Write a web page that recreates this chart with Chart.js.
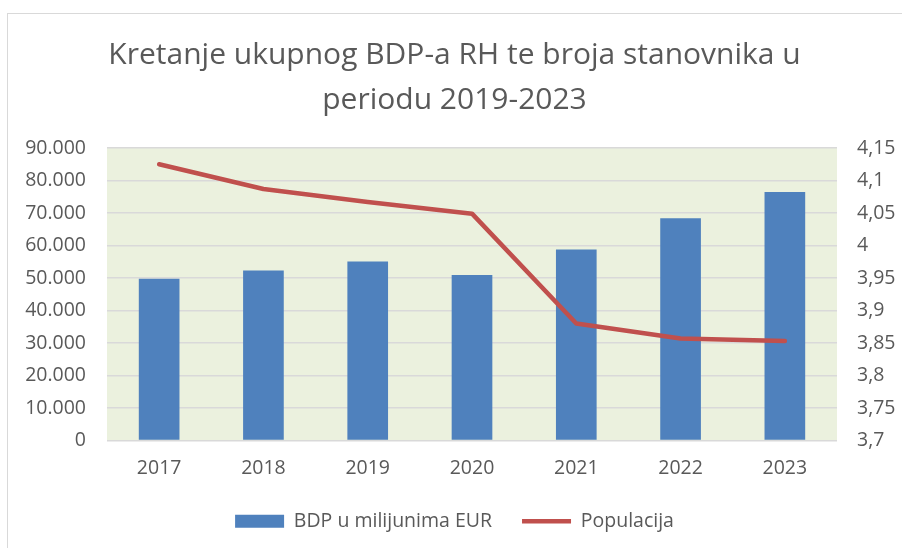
<!DOCTYPE html>
<html>
<head>
<meta charset="utf-8">
<script src="https://cdn.jsdelivr.net/npm/chart.js@4"></script>
<style>
  html, body { margin: 0; padding: 0; background: #fff; overflow: hidden; }
  #frame { position: absolute; left: 7px; top: 13px; width: 1000px; height: 700px; border: 1px solid #D9D9D9; }
  #wrap { position: absolute; left: 0; top: 0; width: 902px; height: 548px; }
</style>
</head>
<body>
<div id="frame"></div>
<div id="wrap"><canvas id="bdp-chart"></canvas></div>
<script>
var godine = ["2017", "2018", "2019", "2020", "2021", "2022", "2023"];
var bdp = [49800, 52300, 55100, 50900, 58800, 68400, 76500];
var populacija = [4.125, 4.087, 4.067, 4.049, 3.880, 3.857, 3.853];

var textColor = "#595959";
var fontName = "'Open Sans', sans-serif";

var plotBg = {
  id: "plotBg",
  beforeDraw: function (chart) {
    var a = chart.chartArea;
    chart.ctx.save();
    chart.ctx.fillStyle = "#EBF1DE";
    chart.ctx.fillRect(a.left, a.top, a.right - a.left, a.bottom - a.top);
    chart.ctx.restore();
  }
};

new Chart(document.getElementById("bdp-chart"), {
  type: 'bar',
  data: {
    labels: godine,
    datasets: [
      {
        label: "BDP u milijunima EUR",
        data: bdp,
        backgroundColor: "#4F81BD",
        borderWidth: 0,
        barPercentage: 0.39,
        categoryPercentage: 1,
        yAxisID: "y",
        order: 1
      },
      {
        type: 'line',
        label: "Populacija",
        data: populacija,
        borderColor: "#C0504D",
        backgroundColor: "#C0504D",
        borderWidth: 4.5,
        borderCapStyle: "round",
        borderJoinStyle: "round",
        pointRadius: 0,
        tension: 0,
        yAxisID: "y1",
        order: 0
      }
    ]
  },
  options: {
    responsive: true,
    maintainAspectRatio: false,
    animation: false,
    layout: { padding: { left: 7, right: 0, top: 0, bottom: 7 } },
    plugins: {
      title: {
        display: true,
        text: ["Kretanje ukupnog BDP-a RH te broja stanovnika u", "periodu 2019-2023"],
        color: textColor,
        font: { family: fontName, size: 30, weight: 'normal', lineHeight: 1.5 },
        padding: { top: 33, bottom: 25 }
      },
      legend: {
        position: 'bottom',
        labels: {
          color: textColor,
          font: { family: fontName, size: 19.5 },
          usePointStyle: true,
          pointStyleWidth: 49,
          boxHeight: 13,
          padding: 30,
          generateLabels: function (chart) {
            var items = Chart.defaults.plugins.legend.labels.generateLabels(chart);
            items.sort(function (a, b) { return a.datasetIndex - b.datasetIndex; });
            items.forEach(function (it) {
              if (it.datasetIndex === 0) {
                it.pointStyle = 'rect';
                it.lineWidth = 0;
              } else {
                it.pointStyle = 'line';
                it.lineWidth = 4.5;
                it.strokeStyle = "#C0504D";
              }
            });
            return items;
          }
        }
      },
      tooltip: { enabled: false }
    },
    scales: {
      x: {
        grid: { display: false, drawTicks: false },
        border: { display: false },
        ticks: { color: textColor, font: { family: fontName, size: 19.5 }, padding: 16 },
        afterFit: function (s) { s.height = 41; }
      },
      y: {
        position: 'left',
        min: 0,
        max: 90000,
        border: { display: false },
        grid: { color: "#D9D9D9", lineWidth: 1.5, drawTicks: false },
        ticks: {
          stepSize: 10000,
          color: textColor,
          font: { family: fontName, size: 19.5 },
          padding: 21,
          callback: function (v) { return v.toLocaleString('de-DE'); }
        },
        afterFit: function (s) { s.width = 100; }
      },
      y1: {
        position: 'right',
        min: 3.7,
        max: 4.15,
        border: { display: false },
        grid: { display: false, drawTicks: false },
        ticks: {
          stepSize: 0.05,
          color: textColor,
          font: { family: fontName, size: 19.5 },
          padding: 20,
          callback: function (v) { return String(Math.round(v * 100) / 100).replace('.', ','); }
        },
        afterFit: function (s) { s.width = 65; }
      }
    }
  },
  plugins: [plotBg]
});
</script>
</body>
</html>
